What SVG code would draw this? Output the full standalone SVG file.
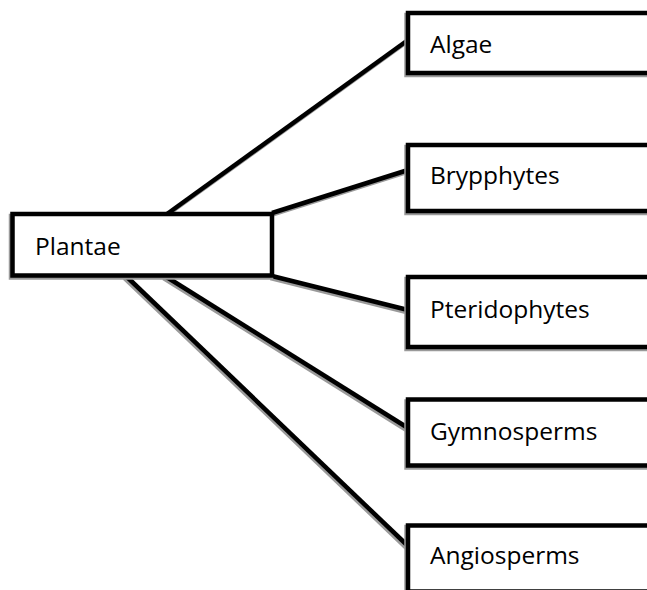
<svg xmlns="http://www.w3.org/2000/svg" width="647" height="590" viewBox="0 0 647 590">
<defs>
<style>
.box{fill:#fff;stroke:#000;stroke-width:4.5}
.sh{fill:none;stroke:#9a9a9a;stroke-width:4.5}
.ln{stroke:#000;stroke-width:4.5;fill:none}
.lsh{stroke:#9a9a9a;stroke-width:4.5;fill:none}
.t{font-family:"Open Sans","Liberation Sans",sans-serif;font-size:24.5px;fill:#000}
</style>
</defs>
<rect width="647" height="590" fill="#fff"/>
<g id="connectors">
<g transform="translate(-1.5,2)">
<line class="lsh" x1="167" y1="214" x2="408" y2="40"/>
<line class="lsh" x1="272" y1="213" x2="408" y2="170"/>
<line class="lsh" x1="272" y1="276" x2="408" y2="310"/>
<line class="lsh" x1="165" y1="276" x2="408" y2="428"/>
<line class="lsh" x1="126" y1="276" x2="408" y2="546"/>
</g>
<line class="ln" x1="167" y1="214" x2="408" y2="40"/>
<line class="ln" x1="272" y1="213" x2="408" y2="170"/>
<line class="ln" x1="272" y1="276" x2="408" y2="310"/>
<line class="ln" x1="165" y1="276" x2="408" y2="428"/>
<line class="ln" x1="126" y1="276" x2="408" y2="546"/>
</g>
<g id="plantae">
<rect class="sh" x="11" y="216" width="260" height="61.5"/>
<rect class="box" x="12.5" y="214" width="259.5" height="61.5"/>
<text class="t" x="35" y="255">Plantae</text>
</g>
<g id="algae">
<rect class="sh" x="406.5" y="15" width="250" height="60"/>
<rect class="box" x="408" y="13" width="250" height="60"/>
<text class="t" x="430" y="53">Algae</text>
</g>
<g id="brypphytes">
<rect class="sh" x="406.5" y="147" width="250" height="66"/>
<rect class="box" x="408" y="145" width="250" height="66"/>
<text class="t" x="430" y="184">Brypphytes</text>
</g>
<g id="pteridophytes">
<rect class="sh" x="406.5" y="279" width="250" height="70"/>
<rect class="box" x="408" y="277" width="250" height="70"/>
<text class="t" x="430" y="318">Pteridophytes</text>
</g>
<g id="gymnosperms">
<rect class="sh" x="406.5" y="401.5" width="250" height="66"/>
<rect class="box" x="408" y="399.5" width="250" height="66"/>
<text class="t" x="430" y="440">Gymnosperms</text>
</g>
<g id="angiosperms">
<rect class="sh" x="406.5" y="527" width="250" height="66"/>
<rect class="box" x="408" y="525.5" width="250" height="66"/>
<text class="t" x="430" y="564">Angiosperms</text>
</g>
</svg>
